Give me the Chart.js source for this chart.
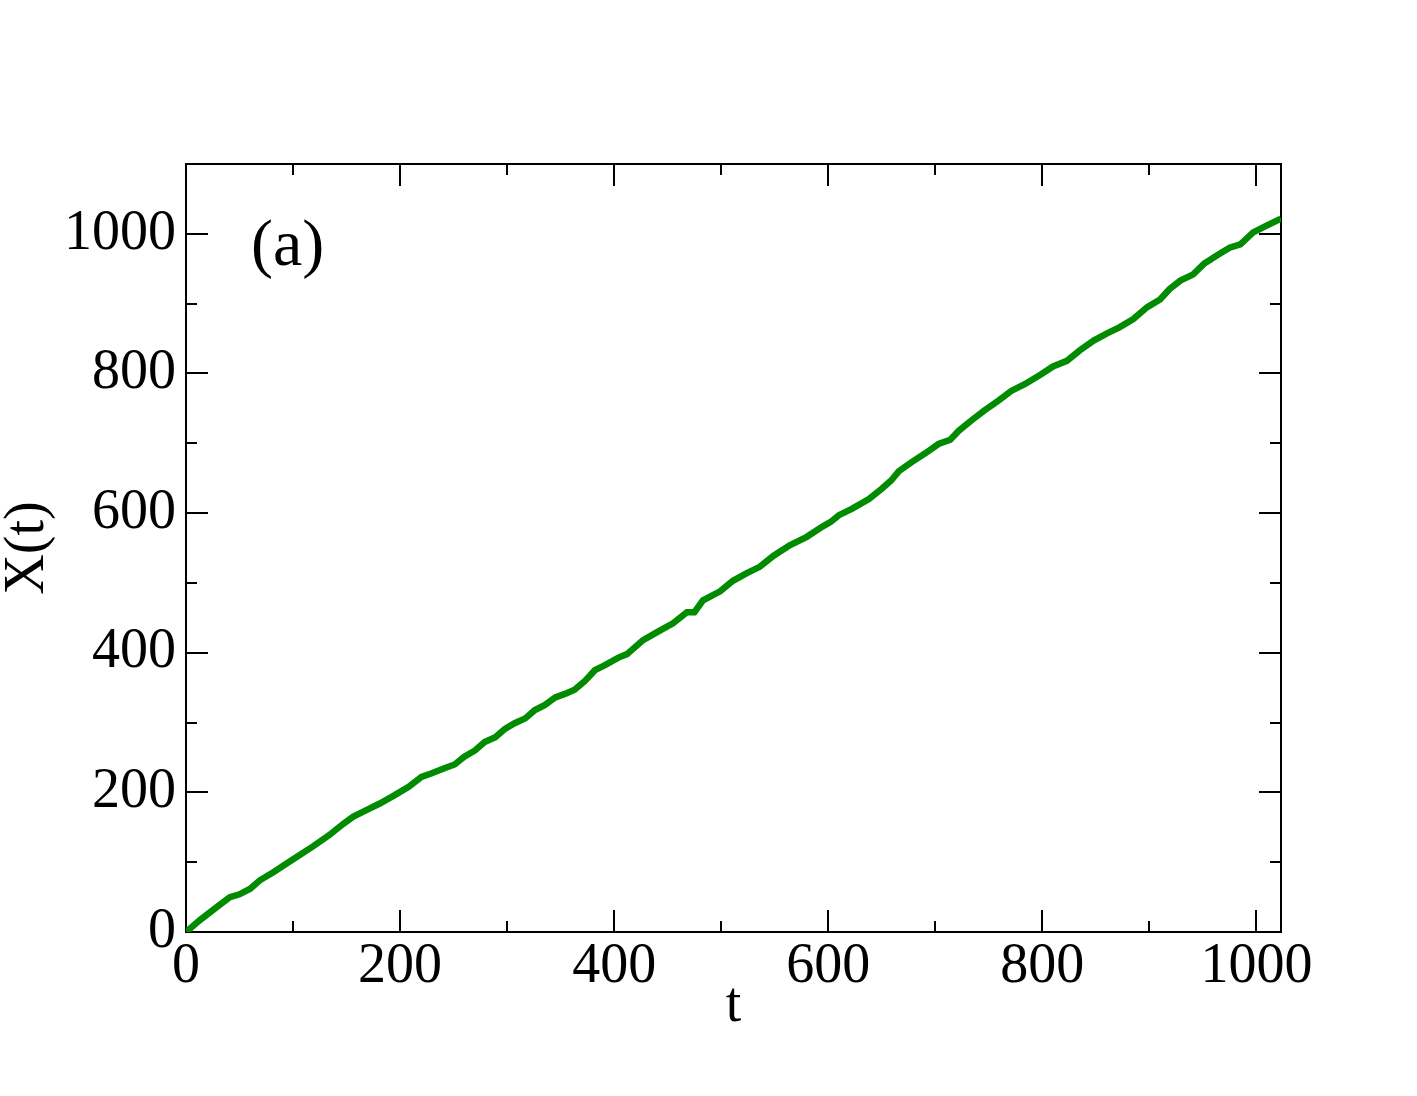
<!DOCTYPE html>
<html>
<head>
<meta charset="utf-8">
<script src="https://cdn.jsdelivr.net/npm/chart.js@4.4.1/dist/chart.umd.min.js"></script>
<style>
  html, body { margin: 0; padding: 0; background: #fff; }
  #graf { display: block; }
</style>
</head>
<body>
<canvas id="graf" width="1417" height="1096"></canvas>
<script>
// values
const tValues = [0, 13, 29, 41, 50, 60, 69, 82, 94, 103, 119, 134, 147, 156, 169, 181, 195,
  208, 220, 229, 242, 251, 260, 270, 279, 289, 298, 307, 317, 326, 335, 345, 354, 363, 373,
  382, 391, 404, 412, 427, 443, 455, 468, 475, 483, 499, 511, 524, 536, 549, 564, 580, 595,
  602, 610, 622, 638, 650, 659, 666, 678, 691, 703, 714, 722, 734, 746, 759, 771, 784, 799,
  810, 823, 835, 848, 860, 872, 885, 898, 910, 919, 929, 941, 951, 963, 975, 985, 997, 1010,
  1022, 1023];
const xValues = [0, 17, 36, 50, 54, 62, 74, 86, 98, 107, 123, 139, 155, 165, 175, 184, 196,
  208, 222, 227, 235, 240, 251, 260, 272, 279, 291, 299, 306, 318, 325, 336, 341, 347, 360,
  375, 382, 393, 398, 418, 432, 442, 458, 458, 475, 488, 503, 514, 523, 539, 554, 566, 581,
  587, 597, 606, 620, 635, 647, 660, 673, 686, 699, 705, 718, 733, 747, 761, 775, 785, 799,
  810, 818, 833, 847, 857, 866, 878, 895, 906, 921, 933, 942, 957, 969, 980, 985, 1002, 1012,
  1021, 1022];
const xTicks = [0, 200, 400, 600, 800, 1000];
const yTicks = [0, 200, 400, 600, 800, 1000];
const panelLabel = "(a)";

const fonte = "'Liberation Serif', 'Times New Roman', serif";

// frame with inward ticks on all four sides, plus the panel label
const moldura = {
  id: "moldura",
  beforeDatasetsDraw(chart) {
    const { ctx, chartArea: a, scales } = chart;
    const sx = scales.x, sy = scales.y;
    ctx.save();
    ctx.strokeStyle = "#000";
    ctx.lineWidth = 2;
    ctx.strokeRect(a.left, a.top, a.right - a.left, a.bottom - a.top);
    ctx.beginPath();
    for (let v = 0; v <= sx.max; v += 100) {
      const p = Math.round(sx.getPixelForValue(v));
      const len = v % 200 === 0 ? 22 : 11;
      ctx.moveTo(p, a.bottom); ctx.lineTo(p, a.bottom - len);
      ctx.moveTo(p, a.top); ctx.lineTo(p, a.top + len);
    }
    for (let v = 0; v <= sy.max; v += 100) {
      const p = Math.round(sy.getPixelForValue(v));
      const len = v % 200 === 0 ? 22 : 11;
      ctx.moveTo(a.left, p); ctx.lineTo(a.left + len, p);
      ctx.moveTo(a.right, p); ctx.lineTo(a.right - len, p);
    }
    ctx.stroke();
    ctx.fillStyle = "#000";
    ctx.font = "66px " + fonte;
    ctx.textAlign = "left";
    ctx.textBaseline = "alphabetic";
    ctx.fillText(panelLabel, a.left + 65, a.top + 101);
    ctx.restore();
  },
};

const ctx = document.getElementById("graf").getContext("2d");
const grafico = new Chart(ctx, {
  type: "line",
  data: {
    datasets: [
      {
        data: tValues.map((t, i) => ({ x: t, y: xValues[i] })),
        borderColor: "rgb(0,139,0)",
        borderWidth: 6.5,
        pointRadius: 0,
        tension: 0,
        fill: false,
      },
    ],
  },
  options: {
    responsive: false,
    animation: false,
    layout: { padding: { top: 164, right: 136, left: 0, bottom: 0 } },
    plugins: { legend: { display: false }, tooltip: { enabled: false } },
    scales: {
      x: {
        type: "linear",
        min: 0,
        max: 1023,
        border: { display: false },
        grid: { display: false, drawTicks: false },
        afterFit: (s) => { s.height = 164; },
        afterBuildTicks: (s) => { s.ticks = xTicks.map((v) => ({ value: v })); },
        ticks: {
          color: "#000",
          padding: 2,
          maxRotation: 0,
          autoSkip: false,
          callback: (v) => String(v),
          font: { family: fonte, size: 56 },
        },
        title: {
          display: true,
          text: "t",
          color: "#000",
          padding: { top: 0, bottom: 56 },
          font: { family: fonte, size: 56 },
        },
      },
      y: {
        type: "linear",
        min: 0,
        max: 1100,
        border: { display: false },
        grid: { display: false, drawTicks: false },
        afterFit: (s) => { s.width = 186; },
        afterBuildTicks: (s) => { s.ticks = yTicks.map((v) => ({ value: v })); },
        ticks: {
          color: "#000",
          padding: 10,
          autoSkip: false,
          callback: (v) => String(v),
          font: { family: fonte, size: 56 },
        },
        title: {
          display: true,
          text: "X(t)",
          color: "#000",
          padding: { top: -5, bottom: 0 },
          font: { family: fonte, size: 56 },
        },
      },
    },
  },
  plugins: [moldura],
});
</script>
</body>
</html>
